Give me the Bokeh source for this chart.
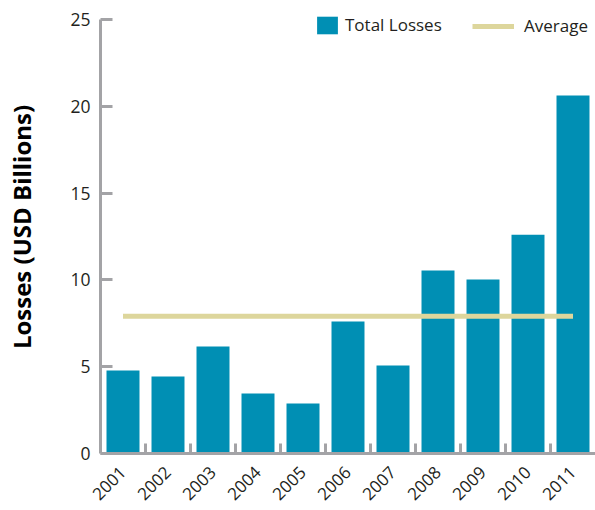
import math
from bokeh.plotting import figure
from bokeh.models import Range1d, FixedTicker, Legend, LegendItem
from bokeh.embed import file_html
from bokeh.resources import INLINE

years = [2001, 2002, 2003, 2004, 2005, 2006, 2007, 2008, 2009, 2010, 2011]
losses = [4.78, 4.43, 6.16, 3.46, 2.88, 7.6, 5.07, 10.54, 10.02, 12.6, 20.62]
average = 7.9
y_ticks = [0, 5, 10, 15, 20, 25]

BAR = "#008fb4"
AVG = "#ddd69c"
AX = "#a3a3a6"
TXT = "#231f20"
FONT = "Open Sans"

p = figure(width=595, height=510, output_backend="svg", toolbar_location=None,
           x_range=Range1d(years[0] - 0.5, years[-1] + 0.5), y_range=Range1d(0, 26.094),
           min_border_left=100, min_border_right=0, min_border_top=0, min_border_bottom=57)
p.outline_line_color = None
p.xgrid.visible = False
p.ygrid.visible = False

bars = p.vbar(x=years, top=losses, width=0.733, color=BAR, line_color=None)
avg_line = p.line(x=[years[0], years[-1]], y=[average, average], line_color=AVG, line_width=5)

# y axis
ya = p.yaxis[0]
ya.bounds = (y_ticks[0], y_ticks[-1])
ya.ticker = FixedTicker(ticks=y_ticks)
ya.axis_line_color = AX
ya.axis_line_width = 3
ya.major_tick_line_color = AX
ya.major_tick_line_width = 3
ya.major_tick_in = 12
ya.major_tick_out = 0
ya.minor_tick_line_color = None
ya.major_label_text_font = FONT
ya.major_label_text_font_size = "17.5px"
ya.major_label_text_color = TXT
ya.major_label_standoff = 10
ya.axis_label = "Losses (USD Billions)"
ya.axis_label_text_font = FONT
ya.axis_label_text_font_style = "bold"
ya.axis_label_text_font_size = "24px"
ya.axis_label_text_color = "#000000"
ya.axis_label_standoff = 29

# x axis
xa = p.xaxis[0]
xa.ticker = FixedTicker(ticks=years, minor_ticks=[y + 0.5 for y in years[:-1]])
xa.axis_line_color = AX
xa.axis_line_width = 3
xa.major_tick_line_color = None
xa.minor_tick_line_color = AX
xa.minor_tick_line_width = 3
xa.minor_tick_in = 10
xa.minor_tick_out = 0
xa.major_label_orientation = math.pi / 4
xa.major_label_text_font = FONT
xa.major_label_text_font_size = "17px"
xa.major_label_text_color = TXT
xa.major_label_standoff = 10

def mk_legend(item, loc, gw, gh, standoff):
    lg = Legend(items=[item], location=loc, orientation="horizontal",
                padding=0, margin=0, border_line_alpha=0, background_fill_alpha=0,
                glyph_width=gw, glyph_height=gh, label_height=gh,
                label_standoff=standoff, label_text_font=FONT, label_text_font_size="17px",
                label_text_color=TXT)
    p.add_layout(lg, "center")

mk_legend(LegendItem(label="Total Losses", renderers=[bars]), (214, 417), 26, 22, 5)
mk_legend(LegendItem(label="Average", renderers=[avg_line]), (372, 416), 42, 18, 10)

open("out.html", "w").write(file_html(p, INLINE))
